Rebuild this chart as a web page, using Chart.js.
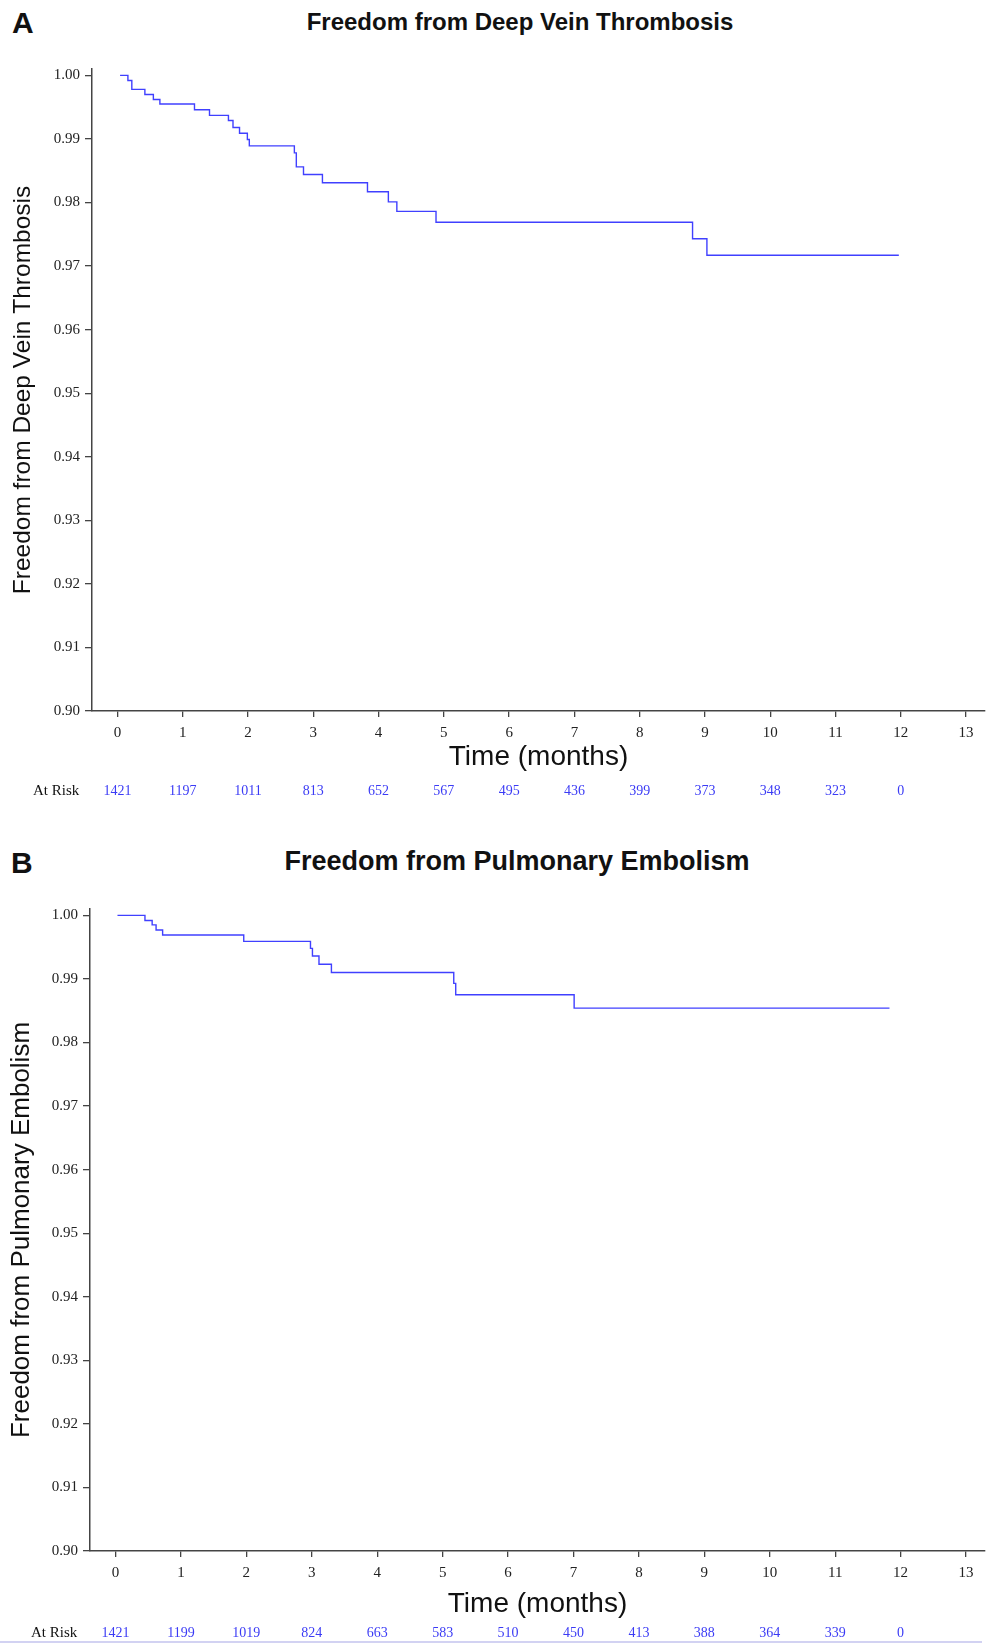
<!DOCTYPE html>
<html>
<head>
<meta charset="utf-8">
<script src="https://cdn.jsdelivr.net/npm/chart.js@4.4.1/dist/chart.umd.min.js"></script>
<style>
  html, body { margin:0; padding:0; background:#fff; }
  body { width:987px; height:1643px; position:relative; overflow:hidden; }
  .letter { position:absolute; font-family:"Liberation Sans", Arial, sans-serif; font-weight:bold; font-size:30px; line-height:30px; color:#111; }
  .title { position:absolute; width:800px; text-align:center; font-family:"Liberation Sans", Arial, sans-serif; font-weight:bold; color:#111; white-space:nowrap; }
  .panel { position:absolute; left:0; width:987px; }
  canvas { display:block; }
  .edge { position:absolute; left:0; top:1641px; width:982px; height:2px; background:#d2d2f2; }
</style>
</head>
<body>
<div class="letter" style="left:12px;top:8px;">A</div>
<div class="title" style="left:120px;top:10px;font-size:24px;line-height:24px;">Freedom from Deep Vein Thrombosis</div>
<div class="panel" style="top:0;height:830px;"><canvas id="chartA" width="987" height="830"></canvas></div>

<div class="letter" style="left:11px;top:848px;">B</div>
<div class="title" style="left:117px;top:848px;font-size:27px;line-height:27px;">Freedom from Pulmonary Embolism</div>
<div class="panel" style="top:840px;height:803px;"><canvas id="chartB" width="987" height="803"></canvas></div>
<div class="edge"></div>

<script>
// ---- Data ----
const xTicks = [0,1,2,3,4,5,6,7,8,9,10,11,12,13];
const yTicks = [0.90,0.91,0.92,0.93,0.94,0.95,0.96,0.97,0.98,0.99,1.00];

// Panel A: Freedom from Deep Vein Thrombosis (step times in months, survival after step)
const timeA = [0.04, 0.16, 0.22, 0.42, 0.55, 0.65, 1.18, 1.41, 1.70, 1.77, 1.87, 1.99, 2.02, 2.71, 2.74, 2.85, 3.14, 3.83, 4.15, 4.28, 4.88, 8.81, 9.03, 11.97];
const survA = [1.0000, 0.9992, 0.9978, 0.9970, 0.9962, 0.9955, 0.9946, 0.9937, 0.9929, 0.9918, 0.9909, 0.9899, 0.9889, 0.9878, 0.9856, 0.9844, 0.9831, 0.9817, 0.9801, 0.9786, 0.9769, 0.9743, 0.9717, 0.9717];
const atRiskA = [1421, 1197, 1011, 813, 652, 567, 495, 436, 399, 373, 348, 323, 0];

// Panel B: Freedom from Pulmonary Embolism
const timeB = [0.03, 0.45, 0.56, 0.62, 0.72, 1.96, 2.98, 3.01, 3.11, 3.30, 5.17, 5.20, 7.01, 11.83];
const survB = [1.0000, 0.9992, 0.9985, 0.9977, 0.9969, 0.9959, 0.9948, 0.9936, 0.9923, 0.9910, 0.9893, 0.9875, 0.9854, 0.9854];
const atRiskB = [1421, 1199, 1019, 824, 663, 583, 510, 450, 413, 388, 364, 339, 0];

const atRiskTicks = [0,1,2,3,4,5,6,7,8,9,10,11,12];

// ---- Chart builder ----
const AXIS = '#444';
const SERIF = '"Liberation Serif", "Times New Roman", serif';
const SANS = '"Liberation Sans", Arial, Helvetica, sans-serif';

const atRiskPlugin = {
  id: 'atRisk',
  afterDraw(chart, args, opts) {
    const ctx = chart.ctx;
    const xs = chart.scales.x;
    const y = chart.chartArea.bottom + opts.offset;
    ctx.save();
    ctx.textBaseline = 'middle';
    ctx.font = '15px ' + SERIF;
    ctx.fillStyle = '#111';
    ctx.textAlign = 'left';
    ctx.fillText('At Risk', opts.labelX, y);
    ctx.font = '14px ' + SERIF;
    ctx.fillStyle = '#3b3bf5';
    ctx.textAlign = 'center';
    opts.values.forEach((v, i) => {
      ctx.fillText(String(v), xs.getPixelForValue(atRiskTicks[i]), y);
    });
    ctx.restore();
  }
};

function makeChart(id, times, surv, atRisk, yTitle, cfg) {
  const pts = times.map((t, i) => ({ x: t, y: surv[i] }));
  return new Chart(document.getElementById(id), {
    type: 'line',
    data: {
      datasets: [{
        data: pts,
        stepped: true,
        borderColor: '#4040ff',
        borderWidth: 1.4,
        pointRadius: 0,
        fill: false
      }]
    },
    options: {
      responsive: false,
      animation: false,
      events: [],
      layout: { padding: { top: 69, right: 2, bottom: cfg.padBottom, left: 0 } },
      plugins: {
        legend: { display: false },
        tooltip: { enabled: false },
        title: { display: false },
        atRisk: { values: atRisk, offset: cfg.riskOffset, labelX: cfg.labelX }
      },
      scales: {
        x: {
          type: 'linear',
          min: -0.39,
          max: 13.29,
          afterBuildTicks: (s) => { s.ticks = xTicks.map(v => ({ value: v })); },
          afterFit: (s) => { s.height = cfg.xAxisHeight; },
          ticks: {
            font: { family: SERIF, size: 15 },
            color: '#222',
            padding: 7,
            autoSkip: false,
            maxRotation: 0,
            callback: (v) => String(v)
          },
          grid: { drawOnChartArea: false, drawTicks: true, tickLength: 6, color: AXIS, lineWidth: 1.3 },
          border: { display: true, color: AXIS, width: 1.5 },
          title: {
            display: true,
            text: 'Time (months)',
            font: { family: SANS, size: 28 },
            color: '#111',
            padding: { top: 0, bottom: 0 }
          }
        },
        y: {
          type: 'linear',
          min: 0.90,
          max: 1.001,
          afterBuildTicks: (s) => { s.ticks = yTicks.map(v => ({ value: v })); },
          afterFit: (s) => { s.width = cfg.axisWidth; },
          ticks: {
            font: { family: SERIF, size: 15 },
            color: '#222',
            padding: 5,
            callback: (v) => Number(v).toFixed(2)
          },
          grid: { drawOnChartArea: false, drawTicks: true, tickLength: 7, color: AXIS, lineWidth: 1.3 },
          border: { display: true, color: AXIS, width: 1.5 },
          title: {
            display: true,
            text: yTitle,
            font: { family: SANS, size: cfg.yTitleSize },
            color: '#111',
            padding: { top: cfg.yTitlePad, bottom: 0 }
          }
        }
      }
    },
    plugins: [atRiskPlugin]
  });
}

makeChart('chartA', timeA, survA, atRiskA, 'Freedom from Deep Vein Thrombosis',
  { axisWidth: 92, labelX: 33, padBottom: 56, xAxisHeight: 63, riskOffset: 80, yTitleSize: 24.5, yTitlePad: 9 });
makeChart('chartB', timeB, survB, atRiskB, 'Freedom from Pulmonary Embolism',
  { axisWidth: 90, labelX: 31, padBottom: 22, xAxisHeight: 70, riskOffset: 82, yTitleSize: 26, yTitlePad: 6 });
</script>
</body>
</html>
